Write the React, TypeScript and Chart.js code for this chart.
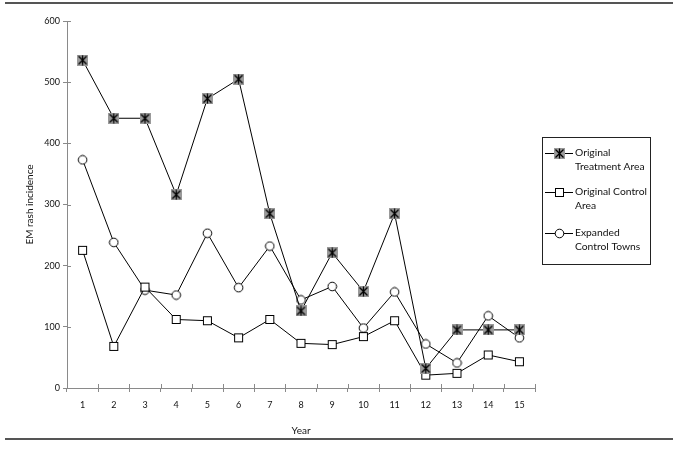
import React, { useEffect, useRef } from "react";
import { Chart, registerables } from "chart.js";
Chart.register(...registerables);

const years = ["1", "2", "3", "4", "5", "6", "7", "8", "9", "10", "11", "12", "13", "14", "15"];
const treatment = [536, 441, 441, 316, 473, 505, 285, 126, 221, 158, 285, 32, 95, 95, 95];
const control = [225, 68, 165, 112, 110, 82, 112, 73, 71, 84, 110, 21, 24, 54, 43];
const expanded = [373, 238, 160, 152, 253, 164, 232, 144, 166, 98, 157, 72, 41, 118, 82];
const yMin = 0;
const yMax = 600;
const yStep = 100;
const legendLabels = [
  ["Original", "Treatment Area"],
  ["Original Control", "Area"],
  ["Expanded", "Control Towns"],
];
const yTitle = "EM rash incidence";
const xTitle = "Year";

function makeStar(): HTMLCanvasElement {
  const c = document.createElement("canvas");
  c.width = 11;
  c.height = 11;
  const g = c.getContext("2d")!;
  g.fillStyle = "#9a9a9a";
  g.fillRect(0, 0, 11, 11);
  g.strokeStyle = "#000";
  g.lineWidth = 1.3;
  g.beginPath();
  g.moveTo(1.5, 1.5);
  g.lineTo(9.5, 9.5);
  g.moveTo(9.5, 1.5);
  g.lineTo(1.5, 9.5);
  g.moveTo(5.5, 0.5);
  g.lineTo(5.5, 10.5);
  g.stroke();
  return c;
}
function makeSquare(): HTMLCanvasElement {
  const c = document.createElement("canvas");
  c.width = 11;
  c.height = 11;
  const g = c.getContext("2d")!;
  g.fillStyle = "#fff";
  g.fillRect(1, 1, 9, 9);
  g.strokeStyle = "#000";
  g.lineWidth = 1;
  g.strokeRect(1.5, 1.5, 8, 8);
  return c;
}
function makeCircle(): HTMLCanvasElement {
  const c = document.createElement("canvas");
  c.width = 11;
  c.height = 11;
  const g = c.getContext("2d")!;
  g.fillStyle = "#fff";
  g.strokeStyle = "#000";
  g.lineWidth = 1;
  g.beginPath();
  g.arc(5.5, 5.5, 4.3, 0, Math.PI * 2);
  g.fill();
  g.stroke();
  return c;
}

export default function App() {
  const ref = useRef<HTMLCanvasElement>(null);
  useEffect(() => {
    const star = makeStar();
    const sq = makeSquare();
    const circ = makeCircle();
    const markers = [star, sq, circ];
    const axisColor = "#8a8a8a";

    const decor = {
      id: "decor",
      beforeDraw(chart: any) {
        const ctx = chart.ctx;
        ctx.save();
        ctx.strokeStyle = "#555";
        ctx.lineWidth = 2;
        ctx.beginPath();
        ctx.moveTo(5, 3);
        ctx.lineTo(673, 3);
        ctx.moveTo(5, 439);
        ctx.lineTo(673, 439);
        ctx.stroke();
        ctx.restore();
      },
      afterDraw(chart: any) {
        const ctx = chart.ctx;
        const ca = chart.chartArea;
        const xs = chart.scales.x;
        const ys = chart.scales.y;
        ctx.save();
        ctx.strokeStyle = axisColor;
        ctx.lineWidth = 1;
        ctx.beginPath();
        ys.ticks.forEach((t: any) => {
          const y = Math.round(ys.getPixelForValue(t.value)) + 0.5;
          ctx.moveTo(ca.left, y);
          ctx.lineTo(ca.left + 4, y);
        });
        const n = years.length;
        for (let i = 0; i <= n; i++) {
          const x = Math.round(xs.getPixelForValue(i - 0.5)) + 0.5;
          ctx.moveTo(x, ca.bottom);
          ctx.lineTo(x, ca.bottom - 4);
        }
        ctx.stroke();

        // legend
        ctx.strokeStyle = "#222";
        ctx.lineWidth = 1;
        ctx.strokeRect(542.5, 137.5, 108, 127);
        const rows = [153, 192, 233];
        ctx.font = "10.3px Lato";
        ctx.fillStyle = "#111";
        ctx.textBaseline = "middle";
        ctx.textAlign = "left";
        rows.forEach((ry, i) => {
          ctx.strokeStyle = "#000";
          ctx.beginPath();
          ctx.moveTo(545, ry + 0.5);
          ctx.lineTo(573, ry + 0.5);
          ctx.stroke();
          const m = markers[i];
          ctx.drawImage(m, 559 - 5, ry - 5);
          legendLabels[i].forEach((line, j) => {
            ctx.fillText(line, 575, ry + j * 14);
          });
        });
        ctx.restore();
      },
    };

    const mk = (data: number[], style: any) => ({
      data,
      borderColor: "#000",
      borderWidth: 1,
      pointStyle: style,
      pointRadius: 5,
      pointHoverRadius: 5,
      tension: 0,
      fill: false,
    });

    const chart = new Chart(ref.current!, {
      type: "line",
      data: {
        labels: years,
        datasets: [
          mk(treatment, star),
          mk(control, sq),
          mk(expanded, circ),
        ],
      },
      options: {
        animation: false,
        responsive: true,
        maintainAspectRatio: false,
        layout: { padding: { top: 21, right: 141, bottom: 16, left: 0 } },
        plugins: { legend: { display: false }, tooltip: { enabled: false } },
        scales: {
          x: {
            type: "category",
            offset: true,
            grid: {
              offset: true,
              drawOnChartArea: false,
              tickLength: 4,
              color: axisColor,
            },
            border: { color: axisColor, width: 1 },
            ticks: {
              color: "#111",
              font: { family: "Lato", size: 9 },
              padding: 8,
              maxRotation: 0,
            },
            title: {
              display: true,
              text: xTitle,
              color: "#111",
              font: { family: "Lato", size: 10 },
              padding: { top: 0, bottom: 1 },
            },
            afterFit(s: any) {
              s.height = 50;
            },
          },
          y: {
            min: yMin,
            max: yMax,
            grid: { drawOnChartArea: false, tickLength: 4, color: axisColor },
            border: { color: axisColor, width: 1 },
            ticks: {
              stepSize: yStep,
              color: "#111",
              font: { family: "Lato", size: 9 },
              padding: 3,
            },
            title: {
              display: true,
              text: yTitle,
              color: "#111",
              font: { family: "Lato", size: 10 },
              padding: { top: 24, bottom: 0 },
            },
            afterFit(s: any) {
              s.width = 67;
            },
          },
        },
      },
      plugins: [decor],
    });
    return () => chart.destroy();
  }, []);
  return (
    <div style={{ position: "absolute", left: 0, top: 0, width: 676, height: 454, background: "#fff" }}>
      <canvas ref={ref} />
    </div>
  );
}
